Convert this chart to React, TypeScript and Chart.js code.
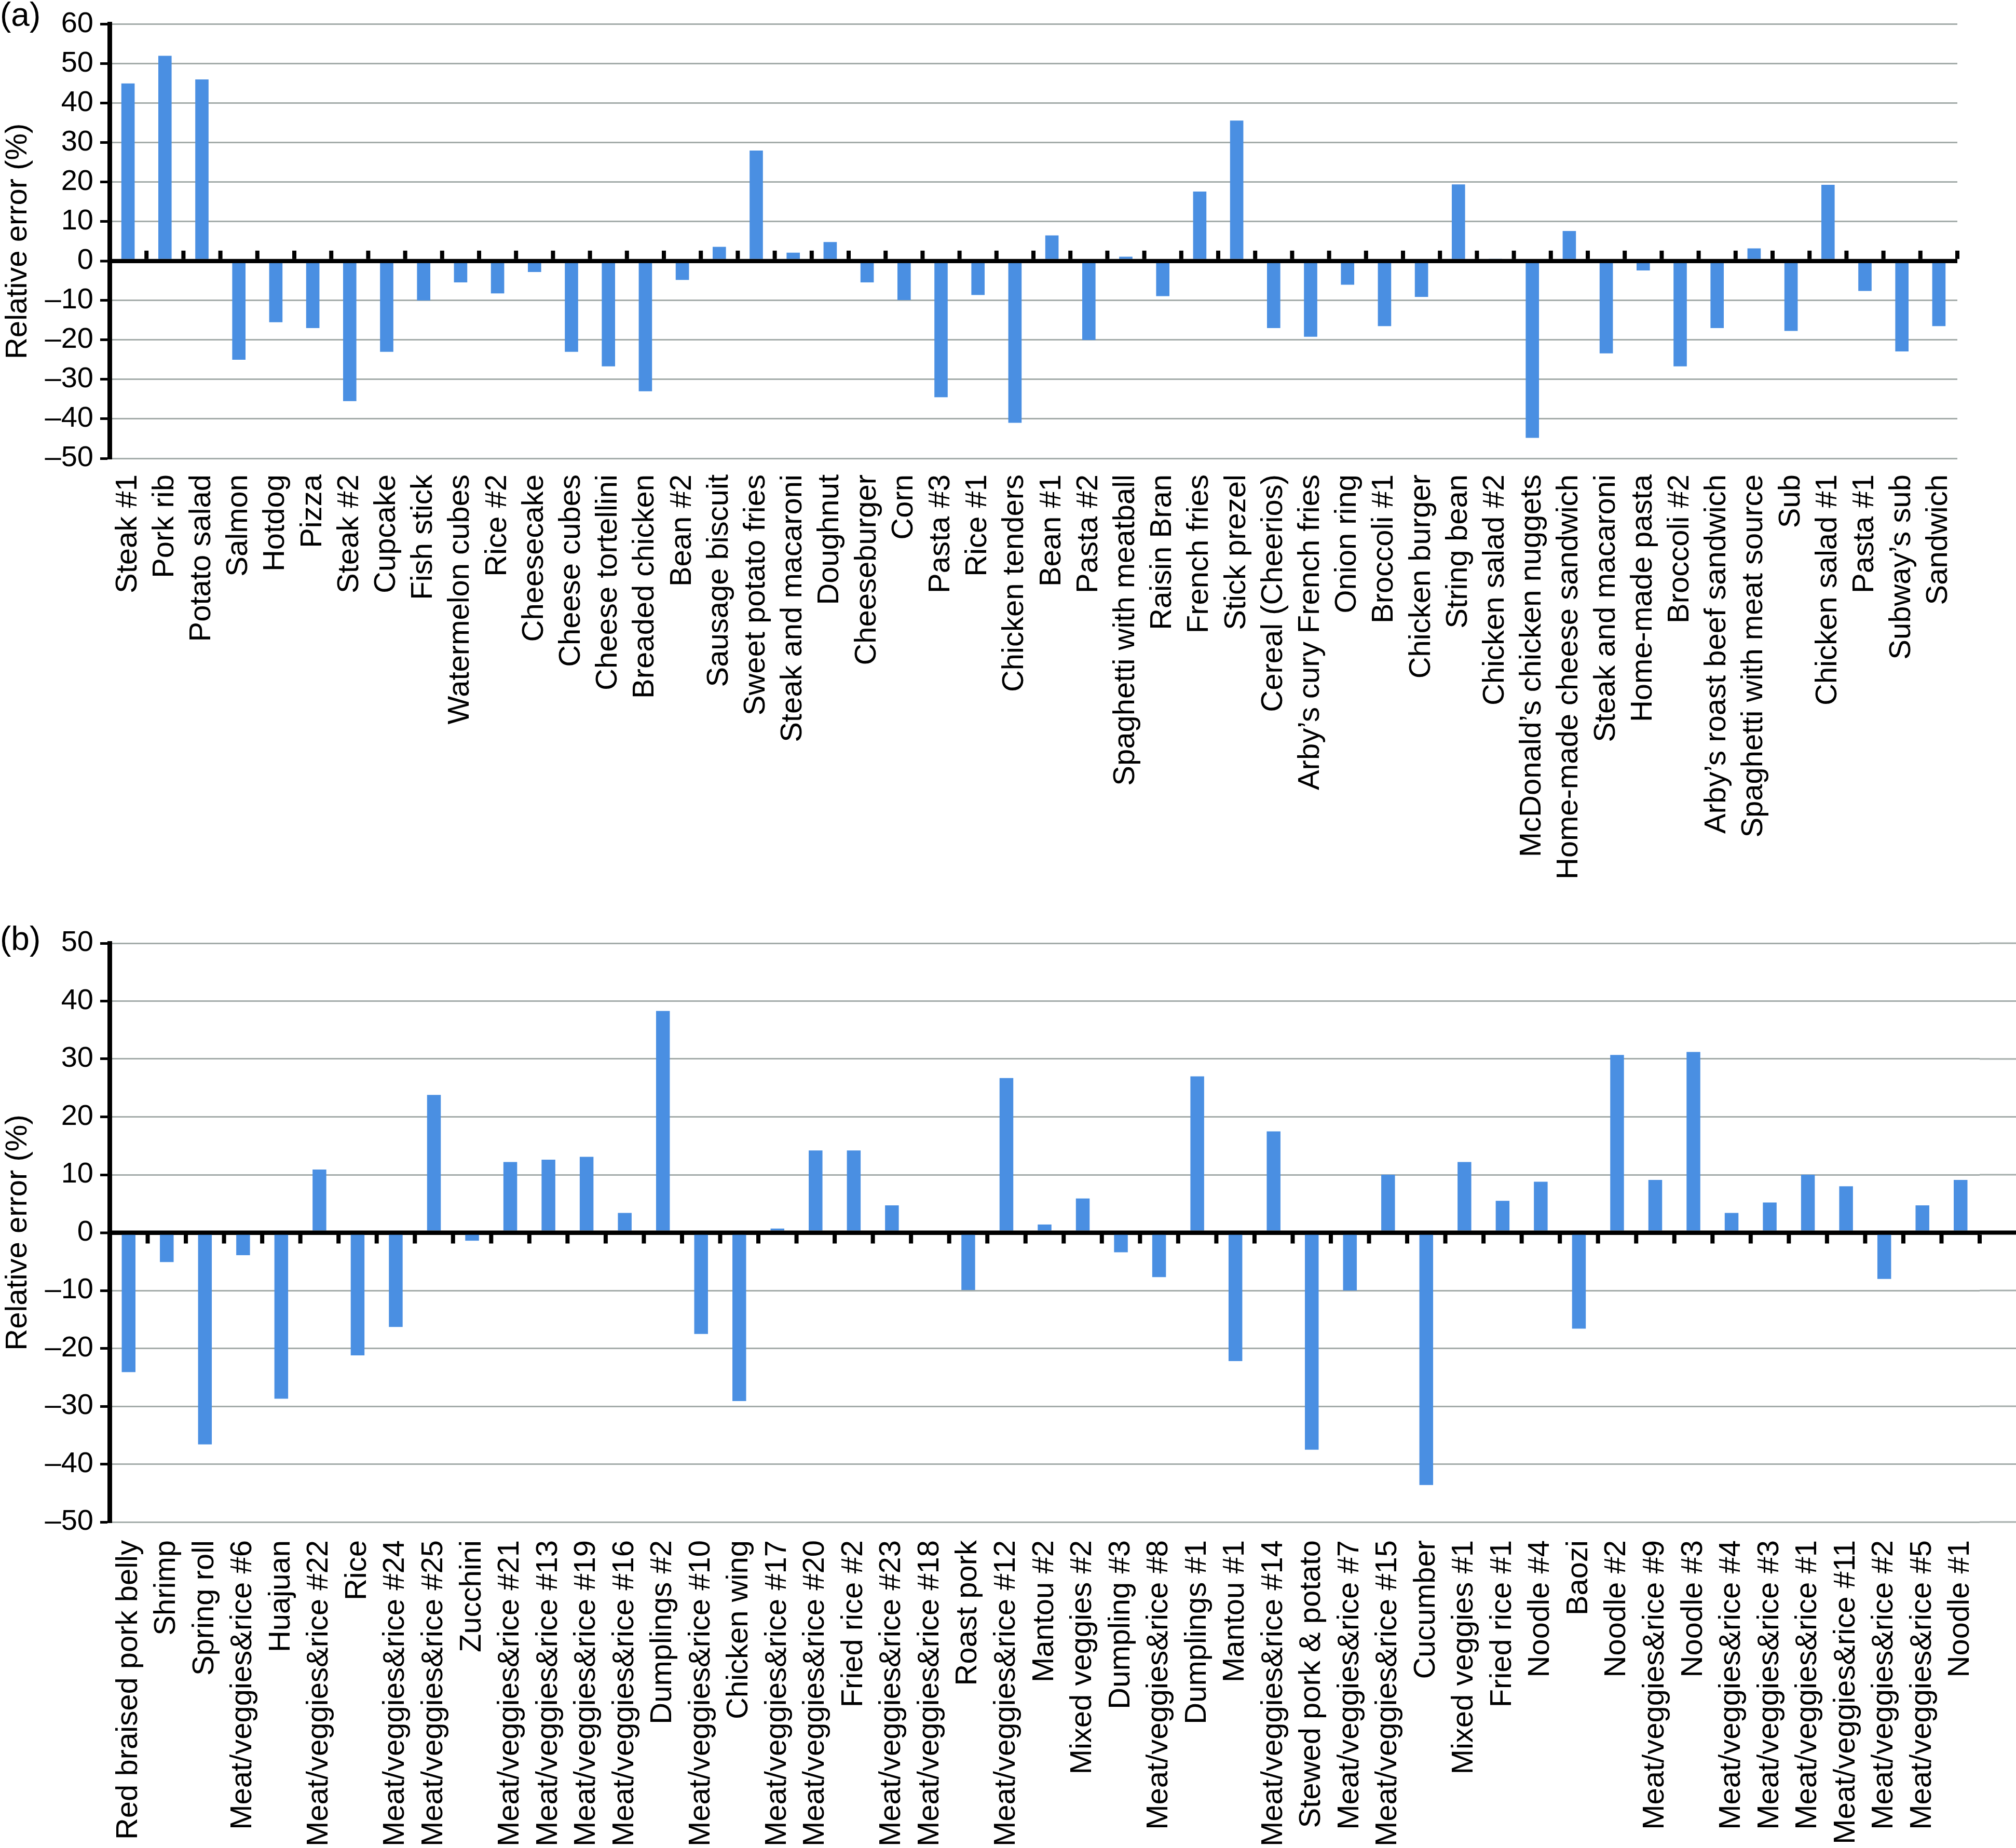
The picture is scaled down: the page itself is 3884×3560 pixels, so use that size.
import React, { useEffect, useRef } from 'react';
import { Chart, registerables } from 'chart.js';

Chart.register(...registerables);

const FONT = "'Liberation Sans', Arial, Helvetica, sans-serif";
const GRID = '#a4acaa';
const BAR = '#4a8fe2';

// ---------- Panel (a) ----------
const categoriesA = [
  'Steak #1', 'Pork rib', 'Potato salad', 'Salmon', 'Hotdog', 'Pizza', 'Steak #2', 'Cupcake',
  'Fish stick', 'Watermelon cubes', 'Rice #2', 'Cheesecake', 'Cheese cubes', 'Cheese tortellini',
  'Breaded chicken', 'Bean #2', 'Sausage biscuit', 'Sweet potato fries', 'Steak and macaroni',
  'Doughnut', 'Cheeseburger', 'Corn', 'Pasta #3', 'Rice #1', 'Chicken tenders', 'Bean #1',
  'Pasta #2', 'Spaghetti with meatball', 'Raisin Bran', 'French fries', 'Stick prezel',
  'Cereal (Cheerios)', 'Arby\u2019s cury French fries', 'Onion ring', 'Broccoli #1', 'Chicken burger',
  'String bean', 'Chicken salad #2', 'McDonald\u2019s chicken nuggets', 'Home-made cheese sandwich',
  'Steak and macaroni', 'Home-made pasta', 'Broccoli #2', 'Arby\u2019s roast beef sandwich',
  'Spaghetti with meat source', 'Sub', 'Chicken salad #1', 'Pasta #1', 'Subway\u2019s sub', 'Sandwich',
];
const valuesA = [
  45, 52, 46, -25, -15.5, -17, -35.5, -23,
  -10, -5.4, -8.2, -2.8, -23, -26.7,
  -33, -4.8, 3.6, 28, 2.1,
  4.8, -5.4, -9.9, -34.5, -8.6, -41, 6.5,
  -20, 1.1, -8.9, 17.6, 35.6,
  -17, -19.2, -6, -16.5, -9.1,
  19.4, 0.4, -44.8, 7.6,
  -23.4, -2.4, -26.7, -17,
  3.2, -17.7, 19.3, -7.6, -22.9, -16.5,
];
const yMinA = -50;
const yMaxA = 60;

// ---------- Panel (b) ----------
const categoriesB = [
  'Red braised pork belly', 'Shrimp', 'Spring roll', 'Meat/veggies&rice #6', 'Huajuan',
  'Meat/veggies&rice #22', 'Rice', 'Meat/veggies&rice #24', 'Meat/veggies&rice #25', 'Zucchini',
  'Meat/veggies&rice #21', 'Meat/veggies&rice #13', 'Meat/veggies&rice #19', 'Meat/veggies&rice #16',
  'Dumplings #2', 'Meat/veggies&rice #10', 'Chicken wing', 'Meat/veggies&rice #17',
  'Meat/veggies&rice #20', 'Fried rice #2', 'Meat/veggies&rice #23', 'Meat/veggies&rice #18',
  'Roast pork', 'Meat/veggies&rice #12', 'Mantou #2', 'Mixed veggies #2', 'Dumpling #3',
  'Meat/veggies&rice #8', 'Dumplings #1', 'Mantou #1', 'Meat/veggies&rice #14',
  'Stewed pork & potato', 'Meat/veggies&rice #7', 'Meat/veggies&rice #15', 'Cucumber',
  'Mixed veggies #1', 'Fried rice #1', 'Noodle #4', 'Baozi', 'Noodle #2', 'Meat/veggies&rice #9',
  'Noodle #3', 'Meat/veggies&rice #4', 'Meat/veggies&rice #3', 'Meat/veggies&rice #1',
  'Meat/veggies&rice #11', 'Meat/veggies&rice #2', 'Meat/veggies&rice #5', 'Noodle #1',
];
const valuesB = [
  -24.1, -5.1, -36.6, -3.9, -28.7,
  10.9, -21.2, -16.3, 23.8, -1.4,
  12.2, 12.6, 13.1, 3.4,
  38.3, -17.5, -29.1, 0.7,
  14.2, 14.2, 4.7, 0,
  -9.9, 26.7, 1.4, 5.9, -3.4,
  -7.7, 27.0, -22.2, 17.5,
  -37.5, -10.0, 10.0, -43.6,
  12.2, 5.5, 8.8, -16.6, 30.7, 9.1,
  31.2, 3.4, 5.2, 10.0,
  8.0, -8.0, 4.7, 9.1,
];
const yMinB = -50;
const yMaxB = 50;
const yStep = 10;

const fmtTick = (v: number | string) => {
  const n = Number(v);
  return n < 0 ? '\u2013' + Math.abs(n) : String(n);
};

const axisPlugin = {
  id: 'zeroAxis',
  beforeDatasetsDraw(chart: any, _args: any, opts: any) {
    if (!opts.extendRight) return;
    const y = chart.scales.y;
    const area = chart.chartArea;
    const ctx = chart.ctx;
    ctx.save();
    y.ticks.forEach((t: any) => {
      if (t.value === 0) return;
      const py = y.getPixelForValue(t.value);
      ctx.strokeStyle = GRID;
      ctx.lineWidth = 3;
      ctx.beginPath();
      ctx.moveTo(area.right, py);
      ctx.lineTo(chart.width, py);
      ctx.stroke();
    });
    ctx.restore();
  },
  afterDatasetsDraw(chart: any, _args: any, opts: any) {
    const { ctx, chartArea: area } = chart;
    const x = chart.scales.x;
    const y = chart.scales.y;
    const y0 = y.getPixelForValue(0);
    const right = opts.extendRight ? chart.width : area.right;
    const lw = opts.lineWidth;
    ctx.save();
    ctx.fillStyle = '#000';
    ctx.fillRect(area.left, y0 - lw / 2, right - area.left, lw);
    const n = x.getLabels().length;
    const half = (x.getPixelForValue(1) - x.getPixelForValue(0)) / 2;
    for (let i = 0; i < n; i++) {
      const bx = x.getPixelForValue(i) + half;
      if (opts.dir === 'up') {
        ctx.fillRect(bx - opts.tickWidth / 2, y0 - lw / 2 - opts.tickLen, opts.tickWidth, opts.tickLen);
      } else {
        ctx.fillRect(bx - opts.tickWidth / 2, y0 + lw / 2, opts.tickWidth, opts.tickLen);
      }
    }
    ctx.font = `64px ${FONT}`;
    ctx.textBaseline = 'alphabetic';
    ctx.textAlign = 'left';
    ctx.fillText(opts.letter, 0, opts.letterY);
    ctx.restore();
  },
};

type PanelProps = {
  top: number;
  height: number;
  labels: string[];
  values: number[];
  yMin: number;
  yMax: number;
  padTop: number;
  padRight: number;
  xHeight: number;
  labelPad: number;
  dir: 'up' | 'down';
  extendRight: boolean;
  letter: string;
  letterY: number;
};

function Panel(p: PanelProps) {
  const ref = useRef<HTMLCanvasElement>(null);
  useEffect(() => {
    if (!ref.current) return;
    const chart = new Chart(ref.current, {
      type: 'bar',
      data: {
        labels: p.labels,
        datasets: [
          {
            data: p.values,
            backgroundColor: BAR,
            borderWidth: 0,
            barPercentage: 0.36,
            categoryPercentage: 1,
          },
        ],
      },
      options: {
        animation: false,
        responsive: false,
        maintainAspectRatio: false,
        devicePixelRatio: 1,
        layout: { padding: { top: p.padTop, right: p.padRight, left: 0, bottom: 0 } },
        plugins: {
          legend: { display: false },
          tooltip: { enabled: false },
          zeroAxis: {
            dir: p.dir,
            extendRight: p.extendRight,
            lineWidth: 8,
            tickLen: p.dir === 'up' ? 16 : 17,
            tickWidth: 8,
            letter: p.letter,
            letterY: p.letterY,
          },
        } as any,
        scales: {
          x: {
            grid: { display: false, drawTicks: false },
            border: { display: false },
            ticks: {
              autoSkip: false,
              minRotation: 90,
              maxRotation: 90,
              padding: p.labelPad,
              color: '#000',
              font: { size: 58, family: FONT },
            },
            afterFit: (s: any) => {
              s.height = p.xHeight;
            },
          },
          y: {
            min: p.yMin,
            max: p.yMax,
            ticks: {
              stepSize: yStep,
              color: '#000',
              padding: 13,
              font: { size: 56, family: FONT },
              callback: (v: any) => fmtTick(v),
            },
            grid: {
              color: (c: any) => (c.tick && c.tick.value === 0 ? '#000' : GRID),
              lineWidth: (c: any) => (c.tick && c.tick.value === 0 ? 8 : 3),
              tickColor: '#000',
              tickWidth: 5,
              tickLength: 18,
              drawTicks: true,
            },
            border: { display: true, color: '#000', width: 9 },
            title: {
              display: true,
              text: 'Relative error (%)',
              color: '#000',
              font: { size: 58, family: FONT },
              padding: { top: 0, bottom: 0 },
            },
            afterFit: (s: any) => {
              s.width = 211;
            },
          },
        },
      } as any,
      plugins: [axisPlugin as any],
    });
    return () => chart.destroy();
  }, []);
  return (
    <canvas
      ref={ref}
      width={3884}
      height={p.height}
      style={{ position: 'absolute', left: 0, top: p.top, width: 3884, height: p.height, display: 'block' }}
    />
  );
}

export default function App() {
  return (
    <div style={{ position: 'absolute', left: 0, top: 0, width: 3884, height: 3560, background: '#fff', overflow: 'hidden' }}>
      <Panel
        top={0}
        height={1740}
        labels={categoriesA}
        values={valuesA}
        yMin={yMinA}
        yMax={yMaxA}
        padTop={33}
        padRight={113}
        xHeight={857}
        labelPad={31}
        dir="up"
        extendRight={false}
        letter="(a)"
        letterY={50}
      />
      <Panel
        top={1740}
        height={1820}
        labels={categoriesB}
        values={valuesB}
        yMin={yMinB}
        yMax={yMaxB}
        padTop={77}
        padRight={70}
        xHeight={628}
        labelPad={35}
        dir="down"
        extendRight={true}
        letter="(b)"
        letterY={90}
      />
    </div>
  );
}
